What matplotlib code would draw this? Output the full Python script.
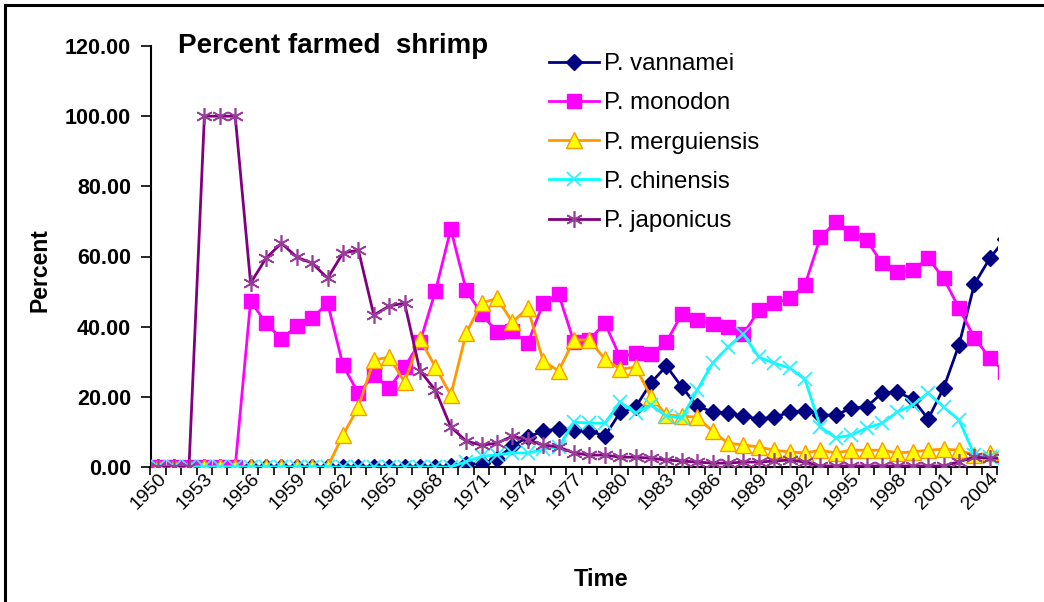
import matplotlib
matplotlib.use("Agg")
import matplotlib.pyplot as plt
from matplotlib.patches import Rectangle
from matplotlib.ticker import FixedLocator, FormatStrFormatter
from matplotlib.transforms import ScaledTranslation

plt.rcParams['font.family'] = ['Liberation Sans', 'DejaVu Sans']

years = list(range(1950, 2006))
tick_years = list(range(1950, 2005, 3))

vannamei = [0]*19 + [0.3, 0.8, 1.0,
    2.3, 6.0, 8.5, 10.3, 10.8, 10.5, 10.3, 8.8, 15.6, 17.1, 24.0, 28.8, 22.8, 17.4,
    15.7, 15.4, 14.5, 13.7, 14.2, 15.6, 16.1, 14.8, 14.8, 16.8, 17.1, 21.1, 21.4,
    19.3, 13.7, 22.5, 34.8, 52.1, 59.5, 65.0]
monodon = [0]*6 + [47.3, 41.0, 36.5, 40.2, 42.4, 46.7, 29.0, 21.0, 26.2, 22.5, 28.5,
    35.6, 50.1, 67.8, 50.4, 43.6, 38.5, 38.7, 35.3, 46.7, 49.3, 35.6, 36.2, 41.0,
    31.3, 32.5, 32.3, 35.6, 43.6, 41.9, 40.7, 39.9, 37.9, 44.7, 46.7, 48.1, 51.9,
    65.5, 69.8, 66.7, 64.7, 58.1, 55.6, 56.1, 59.5, 53.8, 45.3, 36.8, 31.1, 27.0]
merguiensis = [0]*12 + [9.1, 17.1, 30.5, 31.3, 24.2, 36.5, 28.5, 20.5, 38.2, 46.7,
    48.1, 41.3, 45.3, 30.2, 27.4, 36.2, 36.2, 30.8, 27.9, 28.5, 20.0, 14.8, 14.5,
    14.2, 10.2, 6.8, 6.3, 5.7, 4.8, 4.3, 4.0, 4.8, 4.0, 4.8, 4.8, 4.8, 4.0, 4.3,
    4.8, 5.1, 4.8, 3.4, 4.0, 4.0]
chinensis = [0]*20 + [1.5, 3.0, 3.5, 4.0, 4.0, 5.0, 5.7, 12.8, 12.5, 12.5, 18.5,
    15.4, 17.7, 14.5, 14.0, 21.9, 29.6, 34.2, 37.9, 31.3, 29.6, 28.2, 25.0, 11.4,
    8.3, 9.1, 11.1, 12.5, 15.7, 17.7, 21.1, 17.1, 13.4, 3.5, 2.8, 2.5]
japonicus = [0, 0, 0, 100, 100, 100, 52.4, 59.5, 63.8, 59.8, 58.1, 53.8, 61.0, 61.8,
    43.3, 45.9, 46.7, 27.4, 21.9, 11.4, 7.4, 6.2, 6.8, 8.8, 7.7, 6.3, 5.7, 4.0, 3.4,
    3.4, 2.8, 2.8, 2.5, 2.0, 1.7, 1.4, 1.1, 1.1, 1.4, 1.4, 1.7, 2.0, 1.4, 0.3, 0.3,
    0.3, 0.3, 0.3, 0.3, 0.3, 0.3, 0.3, 1.5, 2.8, 2.5, 2.5]

W, H = 1044, 602
fig = plt.figure(figsize=(W/100, H/100), dpi=100)
fig.patch.set_facecolor('white')

# outer frame (cropped at right and bottom)
fig.patches.append(Rectangle((5/W, -0.1), 1.2, 1.1 - 5/H, transform=fig.transFigure,
                             fill=False, edgecolor='black', linewidth=2.2, clip_on=False))

ax = fig.add_axes([150.5/W, 1 - 467/H, (997.5 - 150.5)/W, (467 - 46)/H])

lw = 2.0
ax.plot(years, vannamei, color='#000080', lw=lw, marker='D', ms=8,
        mfc='#000080', mec='#000080', label='P. vannamei', zorder=3)
ax.plot(years, monodon, color='#FF00FF', lw=lw, marker='s', ms=10,
        mfc='#FF00FF', mec='#FF00FF', label='P. monodon', zorder=4)
ax.plot(years, merguiensis, color='#FF9900', lw=lw, marker='^', ms=11,
        mfc='#FFFF00', mec='#FF9900', mew=1.0, label='P. merguiensis', zorder=5)
ax.plot(years, chinensis, color='#00FFFF', lw=lw, marker='x', ms=10, mew=1.3,
        mfc='#00FFFF', mec='#33EEFF', label='P. chinensis', zorder=6)
ax.plot(years, japonicus, color='#800080', lw=lw, marker=(6, 2, 0), ms=12, mew=1.2,
        mec='#9A3C9A', label='P. japonicus', zorder=7)

ax.set_xlim(1949.5, 2004.5)
ax.set_ylim(0, 120)
ax.set_yticks([0, 20, 40, 60, 80, 100, 120])
ax.yaxis.set_major_formatter(FormatStrFormatter('%.2f'))

ax.set_xticks(tick_years)
ax.set_xticklabels([str(y) for y in tick_years], rotation=45, ha='right',
                   rotation_mode='anchor', fontsize=14)
off = ScaledTranslation(6/100, 0, fig.dpi_scale_trans)
for lab in ax.get_xticklabels():
    lab.set_transform(lab.get_transform() + off)
ax.xaxis.set_minor_locator(FixedLocator([y + 0.5 for y in range(1949, 2005)]))
ax.tick_params(axis='x', which='major', length=0, pad=2)
ax.tick_params(axis='x', which='minor', length=6, width=1.2, direction='out')
ax.tick_params(axis='y', length=7, width=1.2, direction='out', labelsize=15.5, pad=7)
for lab in ax.get_yticklabels():
    lab.set_fontweight('bold')

for s in ['top', 'right']:
    ax.spines[s].set_visible(False)
for s in ['left', 'bottom']:
    ax.spines[s].set_linewidth(1.5)

fig.text(40/W, 1 - 270/H, 'Percent', fontsize=16.5, fontweight='bold',
         rotation=90, ha='center', va='center')
fig.text(601/W, 1 - 580/H, 'Time', fontsize=17, fontweight='bold',
         ha='center', va='center')

fig.text(178/W, 1 - 46/H, 'Percent farmed  shrimp', fontsize=20, fontweight='bold',
         ha='left', va='center')

leg = ax.legend(loc='upper left', bbox_to_anchor=(549/W, 1 - 53/H),
                bbox_transform=fig.transFigure, frameon=False, fontsize=17.3,
                handlelength=2.08, handletextpad=0.21, labelspacing=0.72,
                borderaxespad=0, borderpad=0)

fig.savefig('out.png', dpi=100)
